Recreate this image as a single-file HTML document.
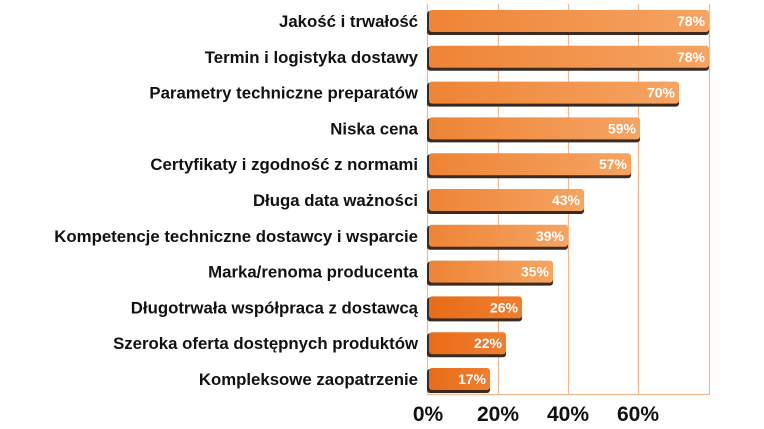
<!DOCTYPE html>
<html><head><meta charset="utf-8"><style>
html,body{margin:0;padding:0;background:#fff;}
svg{display:block;}
</style></head><body>
<svg width="764" height="429" xmlns="http://www.w3.org/2000/svg" font-family="Liberation Sans, sans-serif" font-weight="bold">
<defs>
<linearGradient id="g0" x1="0" x2="1" y1="0" y2="0"><stop offset="0" stop-color="#ee8435"/><stop offset="1" stop-color="#f5a463"/></linearGradient>
<linearGradient id="g1" x1="0" x2="1" y1="0" y2="0"><stop offset="0" stop-color="#e96c18"/><stop offset="1" stop-color="#ee7e30"/></linearGradient>
</defs>
<g stroke="#f4b890" stroke-width="1.2" fill="none">
<line x1="427.5" y1="4" x2="427.5" y2="394"/>
<line x1="498.5" y1="4" x2="498.5" y2="394"/>
<line x1="568.5" y1="4" x2="568.5" y2="394"/>
<line x1="638.5" y1="4" x2="638.5" y2="394"/>
<line x1="709.5" y1="4" x2="709.5" y2="394"/>
<line x1="427" y1="394.5" x2="710" y2="394.5"/>
</g>
<g fill="#3a2a22">
<rect x="427" y="11" width="282" height="24" rx="3"/>
<rect x="427" y="46.8" width="282" height="24" rx="3"/>
<rect x="427" y="82.6" width="252" height="24" rx="3"/>
<rect x="427" y="118.4" width="213" height="24" rx="3"/>
<rect x="427" y="154.2" width="204" height="24" rx="3"/>
<rect x="427" y="190" width="157" height="24" rx="3"/>
<rect x="427" y="225.8" width="141" height="24" rx="3"/>
<rect x="427" y="261.6" width="126" height="24" rx="3"/>
<rect x="427" y="297.4" width="95" height="24" rx="3"/>
<rect x="427" y="333.2" width="79" height="24" rx="3"/>
<rect x="427" y="369" width="63" height="24" rx="3"/>
</g>
<g fill="url(#g0)">
<rect x="429" y="10" width="280" height="22" rx="3"/>
<rect x="429" y="45.8" width="280" height="22" rx="3"/>
<rect x="429" y="81.6" width="250" height="22" rx="3"/>
<rect x="429" y="117.4" width="211" height="22" rx="3"/>
<rect x="429" y="153.2" width="202" height="22" rx="3"/>
<rect x="429" y="189" width="155" height="22" rx="3"/>
<rect x="429" y="224.8" width="139" height="22" rx="3"/>
<rect x="429" y="260.6" width="124" height="22" rx="3"/>
</g>
<g fill="url(#g1)">
<rect x="429" y="296.4" width="93" height="22" rx="3"/>
<rect x="429" y="332.2" width="77" height="22" rx="3"/>
<rect x="429" y="368" width="61" height="22" rx="3"/>
</g>
<g font-size="14" fill="#fff" text-anchor="end">
<text x="705" y="26">78%</text>
<text x="705" y="61.8">78%</text>
<text x="675" y="97.6">70%</text>
<text x="636" y="133.4">59%</text>
<text x="627" y="169.2">57%</text>
<text x="580" y="205">43%</text>
<text x="564" y="240.8">39%</text>
<text x="549" y="276.6">35%</text>
<text x="518" y="312.4">26%</text>
<text x="502" y="348.2">22%</text>
<text x="486" y="384">17%</text>
</g>
<g font-size="16.8" fill="#111" text-anchor="end">
<text x="418" y="27">Jakość i trwałość</text>
<text x="418" y="62.8">Termin i logistyka dostawy</text>
<text x="418" y="98.6">Parametry techniczne preparatów</text>
<text x="418" y="134.4">Niska cena</text>
<text x="418" y="170.2">Certyfikaty i zgodność z normami</text>
<text x="418" y="206">Długa data ważności</text>
<text x="418" y="241.8">Kompetencje techniczne dostawcy i wsparcie</text>
<text x="418" y="277.6">Marka/renoma producenta</text>
<text x="418" y="313.4">Długotrwała współpraca z dostawcą</text>
<text x="418" y="349.2">Szeroka oferta dostępnych produktów</text>
<text x="418" y="385">Kompleksowe zaopatrzenie</text>
</g>
<g font-size="21" fill="#111" text-anchor="middle">
<text x="428" y="421">0%</text>
<text x="498" y="421">20%</text>
<text x="568" y="421">40%</text>
<text x="638" y="421">60%</text>
</g>
</svg>
</body></html>
